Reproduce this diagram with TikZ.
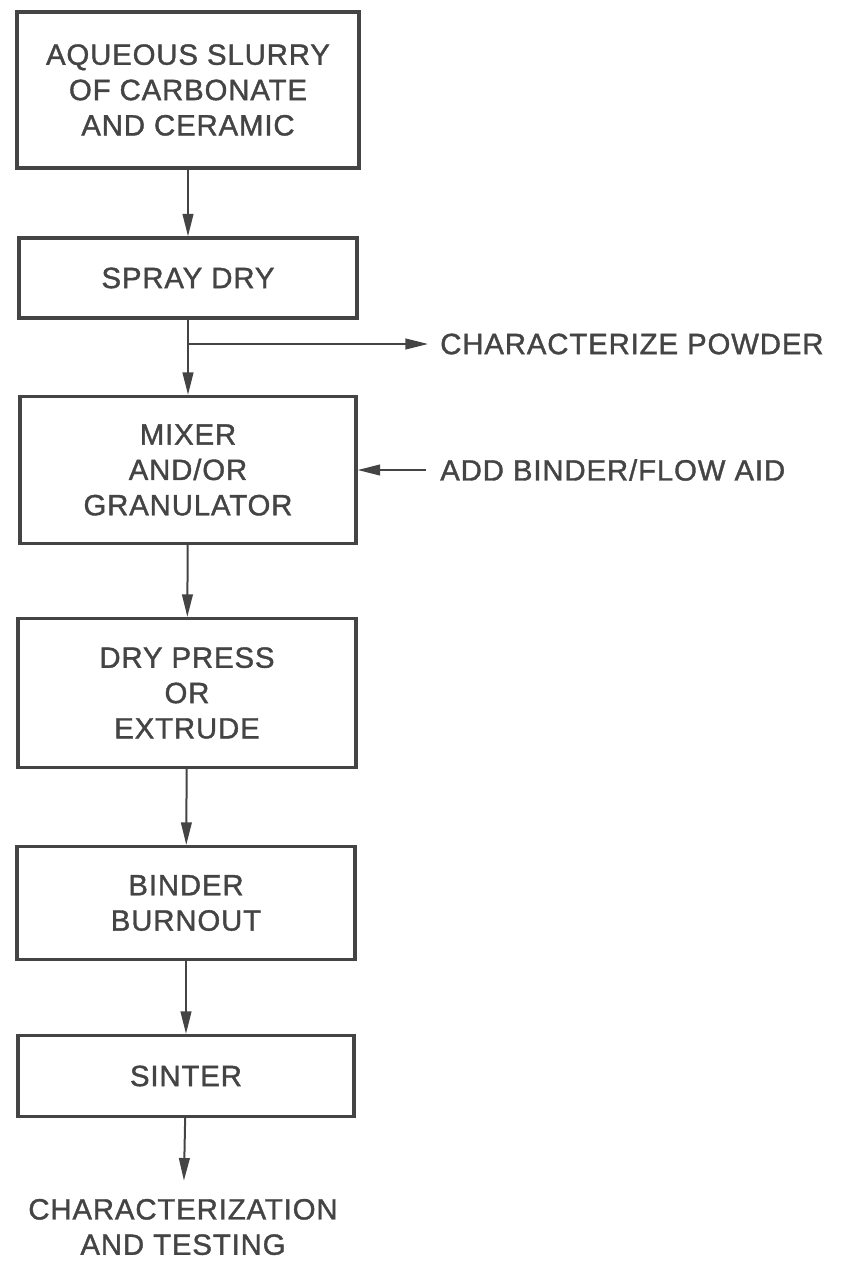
\documentclass[tikz,border=0pt]{standalone}
\usepackage{fontspec}
\setmainfont{Liberation Sans}[LetterSpace=3,FakeBold=1.3]
\usetikzlibrary{arrows.meta}
\definecolor{ink}{RGB}{68,68,68}
\begin{document}
\begin{tikzpicture}[x=0.75pt,y=-0.75pt,
  every node/.style={text=ink,font=\fontsize{22}{26.5}\selectfont},
  stepbox/.style={draw=ink,line width=2.3pt,rectangle,align=center,inner sep=0pt},
  flow/.style={draw=ink,line width=1.5pt,-{Triangle[length=17pt,width=8pt]}},
  lbl/.style={inner sep=0pt,align=center}]
\useasboundingbox (0,0) rectangle (840,1266);
\node[stepbox,minimum width=342*0.75pt,minimum height=156*0.75pt] (b1) at (188,90) {AQUEOUS SLURRY\\OF CARBONATE\\AND CERAMIC};
\node[stepbox,minimum width=338*0.75pt,minimum height=80*0.75pt] (b2) at (188,278) {SPRAY DRY};
\node[stepbox,minimum width=336*0.75pt,minimum height=147*0.75pt] (b3) at (188,470) {MIXER\\AND/OR\\GRANULATOR};
\node[stepbox,minimum width=338*0.75pt,minimum height=149*0.75pt] (b4) at (187,693) {DRY PRESS\\OR\\EXTRUDE};
\node[stepbox,minimum width=338*0.75pt,minimum height=113*0.75pt] (b5) at (186,903) {BINDER\\BURNOUT};
\node[stepbox,minimum width=336*0.75pt,minimum height=81*0.75pt] (b6) at (186,1076) {SINTER};
\node[lbl] (out) at (183,1227) {CHARACTERIZATION\\AND TESTING};
\node[lbl,anchor=west] (cp) at (440,344) {CHARACTERIZE POWDER};
\node[lbl,anchor=west] (ab) at (440,470) {ADD BINDER/FLOW AID};
\coordinate (br) at (188,344);
\draw[flow] (b1) -- (b2);
\draw[flow] (b2) -- (b3);
\draw[flow,shorten >=12*0.75pt] (br) -- (cp.west);
\draw[flow,shorten <=14*0.75pt] (ab.west) -- (b3.east);
\draw[flow] (b3) -- (b4);
\draw[flow] (b4) -- (b5);
\draw[flow] (b5) -- (b6);
\draw[flow,shorten >=18*0.75pt] (b6) -- (out);
\end{tikzpicture}
\end{document}
